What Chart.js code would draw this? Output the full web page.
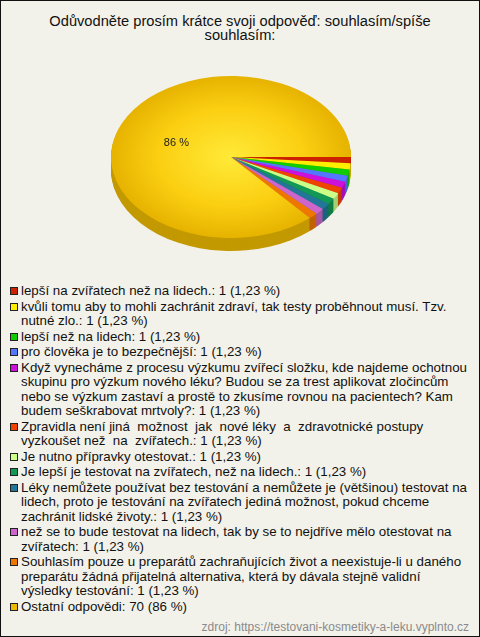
<!DOCTYPE html>
<html>
<head>
<meta charset="utf-8">
<script src="https://cdn.jsdelivr.net/npm/chart.js@4"></script>
<style>
  html, body { margin: 0; padding: 0; }
  body {
    width: 478px; height: 635px; border: 1px solid #111;
    background: #f3f2ea; position: relative; overflow: hidden;
    font-family: "Liberation Sans", Arial, sans-serif; color: #111;
  }
  #title {
    position: absolute; left: 0; top: 13px; width: 478px;
    text-align: center; font-size: 14.67px; line-height: 14px;
  }
  #wrap { position: absolute; left: 0; top: 36px; width: 460px; height: 240px; }
  #legend { position: absolute; left: 9px; top: 283px; width: 459px; font-size: 13.33px; line-height: 14.3px; }
  .item { display: flex; align-items: flex-start; margin-bottom: 1.4px; }
  .sq { flex: none; width: 6px; height: 6px; border: 1px solid #222; margin: 3px 3px 0 0; }
  .txt { white-space: pre-wrap; }
  #source {
    position: absolute; right: 10px; top: 619px; font-size: 12px; color: #8a8a8a;
  }
</style>
</head>
<body>
<div id="title">Odůvodněte prosím krátce svoji odpověď: souhlasím/spíše<br>souhlasím:</div>
<div id="wrap"><canvas id="myChart"></canvas></div>
<div id="legend"></div>
<div id="source">zdroj: https://testovani-kosmetiky-a-leku.vyplnto.cz</div>
<script>
const categories = [
  'lepší na zvířatech než na lidech.',
  'kvůli tomu aby to mohli zachránit zdraví, tak testy proběhnout musí. Tzv. nutné zlo.',
  'lepší než na lidech',
  'pro člověka je to bezpečnější',
  'Když vynecháme z procesu výzkumu zvířecí složku, kde najdeme ochotnou skupinu pro výzkum nového léku? Budou se za trest aplikovat zločincům nebo se výzkum zastaví a prostě to zkusíme rovnou na pacientech? Kam budem seškrabovat mrtvoly?',
  'Zpravidla není jiná  možnost  jak  nové léky  a  zdravotnické postupy vyzkoušet než  na  zvířatech.',
  'Je nutno přípravky otestovat.',
  'Je lepší je testovat na zvířatech, než na lidech.',
  'Léky nemůžete používat bez testování a nemůžete je (většinou) testovat na lidech, proto je testování na zvířatech jediná možnost, pokud chceme zachránit lidské životy.',
  'než se to bude testovat na lidech, tak by se to nejdříve mělo otestovat na zvířatech',
  'Souhlasím pouze u preparátů zachraňujících život a neexistuje-li u daného preparátu žádná přijatelná alternativa, která by dávala stejně validní výsledky testování',
  'Ostatní odpovědi'
];
const counts = [1, 1, 1, 1, 1, 1, 1, 1, 1, 1, 1, 70];
const percents = ['1,23 %', '1,23 %', '1,23 %', '1,23 %', '1,23 %', '1,23 %', '1,23 %', '1,23 %', '1,23 %', '1,23 %', '1,23 %', '86 %'];

const colors = ['#cc2200', '#ffee00', '#11cc00', '#5577ff', '#cc11dd', '#ee4400',
                '#ccff88', '#119955', '#227799', '#cc66cc', '#ee7700', '#eebb00'];

const tilt = 0.675;   // vertical squash of the pie
const depth = 13;     // thickness of the 3d rim

function darker(hex, f) {
  const n = parseInt(hex.slice(1), 16);
  const r = Math.round(((n >> 16) & 255) * f);
  const g = Math.round(((n >> 8) & 255) * f);
  const b = Math.round((n & 255) * f);
  return 'rgb(' + r + ',' + g + ',' + b + ')';
}
const sideColors = colors.map(c => darker(c, 0.82));

// legend as html so the long answers can wrap
const legend = document.getElementById('legend');
categories.forEach((c, i) => {
  const row = document.createElement('div');
  row.className = 'item';
  row.innerHTML = '<span class="sq" style="background:' + colors[i] + '"></span>';
  const t = document.createElement('span');
  t.className = 'txt';
  t.textContent = c + ': ' + counts[i] + ' (' + percents[i] + ')';
  row.appendChild(t);
  legend.appendChild(row);
});

const pie3d = {
  id: 'pie3d',
  beforeDatasetsDraw(chart) {
    const ctx = chart.ctx;
    const arcs = chart.getDatasetMeta(0).data;
    const cx = arcs[0].x, cy = arcs[0].y;
    ctx.save();
    for (let d = depth; d > 0; d--) {
      ctx.save();
      ctx.translate(cx, cy + d);
      ctx.scale(1, tilt);
      arcs.forEach((arc, i) => {
        ctx.beginPath();
        ctx.moveTo(0, 0);
        ctx.arc(0, 0, arc.outerRadius, arc.startAngle, arc.endAngle);
        ctx.closePath();
        ctx.fillStyle = sideColors[i];
        ctx.fill();
      });
      ctx.restore();
    }
    ctx.translate(cx, cy);
    ctx.scale(1, tilt);
    ctx.translate(-cx, -cy);
  },
  afterDatasetsDraw(chart) {
    const ctx = chart.ctx;
    ctx.restore();
    const arcs = chart.getDatasetMeta(0).data;
    const total = counts.reduce((a, b) => a + b, 0);
    ctx.save();
    ctx.font = '11px "Liberation Sans", Arial, sans-serif';
    ctx.fillStyle = '#222';
    ctx.textAlign = 'center';
    ctx.textBaseline = 'middle';
    arcs.forEach((arc, i) => {
      if (counts[i] / total < 0.1) return;
      const p = arc.tooltipPosition();
      ctx.fillText(percents[i], p.x, arc.y + (p.y - arc.y) * tilt + 3);
    });
    ctx.restore();
  }
};

window.addEventListener('load', function() {
  let ctx = document.getElementById('myChart').getContext('2d');
  let chart = new Chart(ctx, {
    type: 'pie',
    data: {
      labels: categories,
      datasets: [{
        data: counts,
        borderWidth: 0,
        backgroundColor: function(c) {
          const i = c.dataIndex;
          const area = c.chart.chartArea;
          if (i !== 11 || !area) return colors[i];
          const cx = (area.left + area.right) / 2;
          const cy = (area.top + area.bottom) / 2;
          const r = Math.min(area.right - area.left, area.bottom - area.top) / 2;
          const g = c.chart.ctx.createRadialGradient(cx, cy, 0, cx, cy, r);
          g.addColorStop(0, '#ffea38');
          g.addColorStop(0.6, '#fbcf12');
          g.addColorStop(1, '#e6b300');
          return g;
        }
      }]
    },
    options: {
      responsive: true,
      maintainAspectRatio: false,
      animation: false,
      rotation: 90,
      layout: { padding: 0 },
      plugins: {
        legend: { display: false },
        tooltip: { enabled: false }
      }
    },
    plugins: [pie3d]
  });
});
</script>
</body>
</html>
